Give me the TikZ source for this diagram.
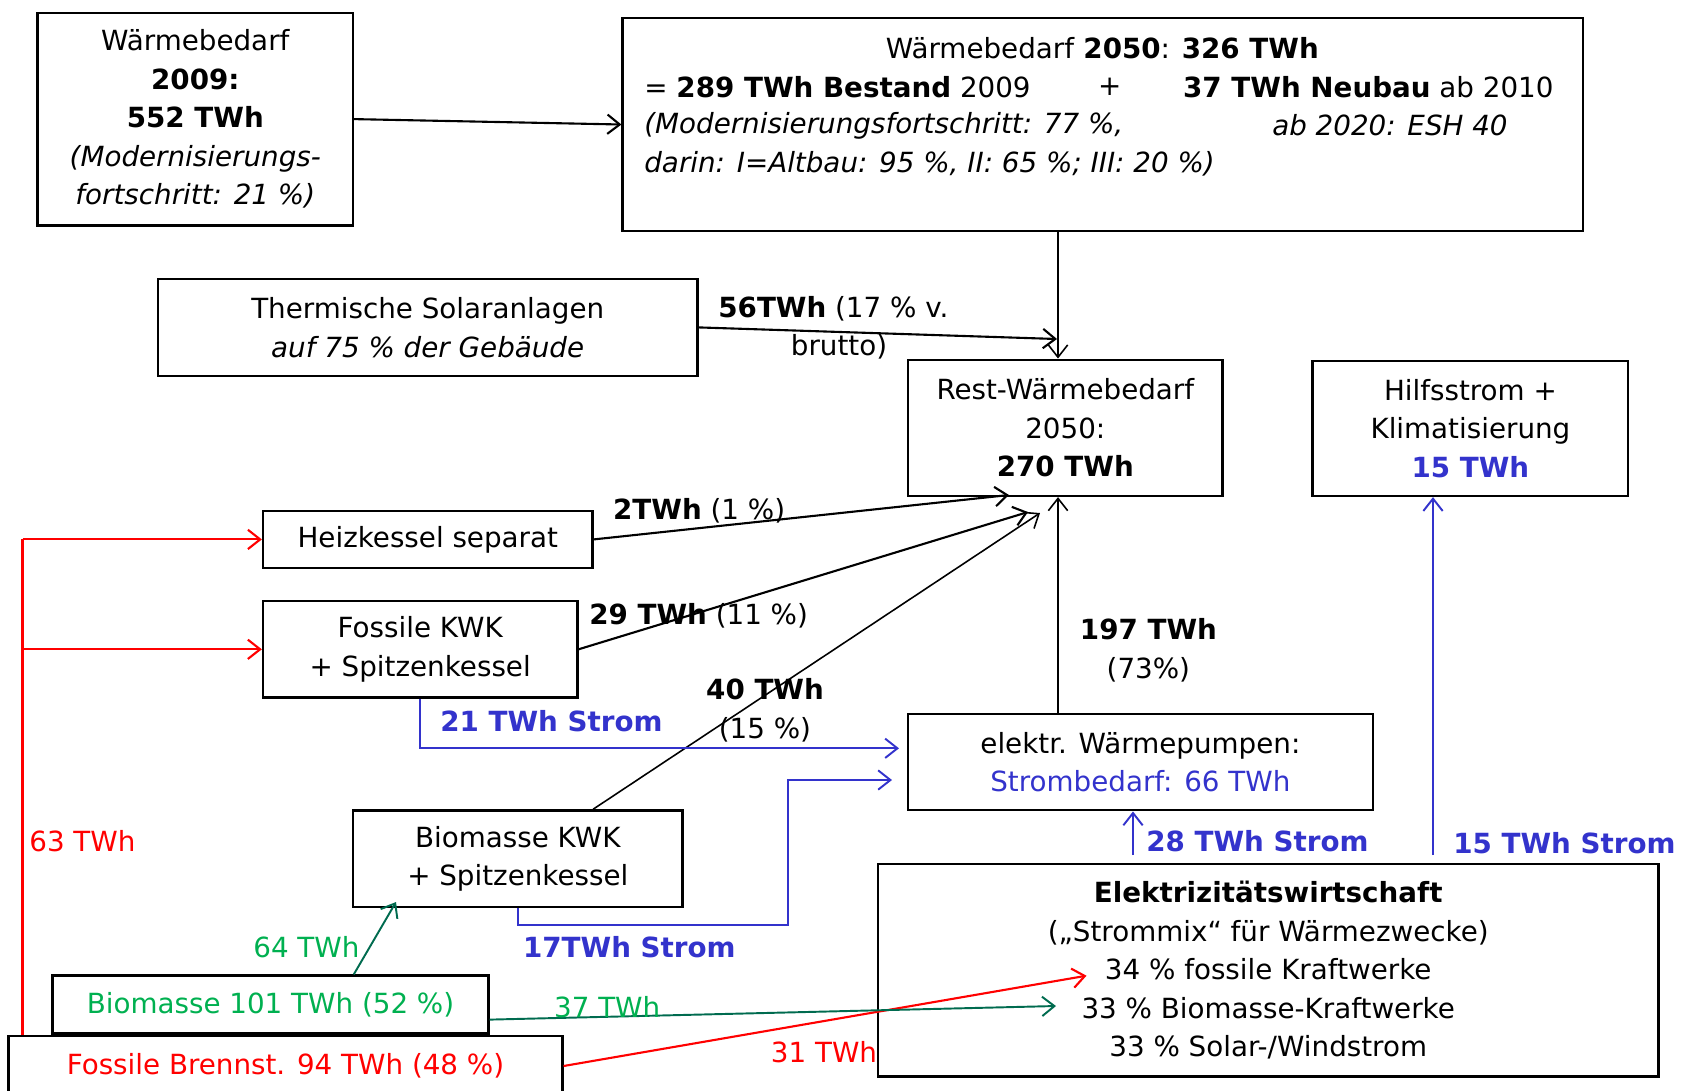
\documentclass[tikz,border=0pt]{standalone}
\usepackage{fontspec}
\setmainfont{DejaVu Sans}
\usetikzlibrary{arrows.meta,calc}

\definecolor{stromblau}{RGB}{51,51,204}
\definecolor{bio}{RGB}{0,176,80}
\definecolor{biodark}{RGB}{0,107,79}
\newcommand{\pxu}{0.02cm}

\begin{document}
\begin{tikzpicture}[x=0.02cm,y=-0.02cm,>={Straight Barb[length=7pt,width=11pt]},
                    font=\fontsize{15.8pt}{21.9pt}\selectfont,
                    box/.style={draw,line width=1.3pt,inner sep=0pt,align=center},
                    lbl/.style={inner sep=0pt,anchor=west},
                    flow/.style={->,line width=1.2pt},
                    thinflow/.style={->,line width=0.9pt},
                    elflow/.style={->,draw=stromblau,line width=1.1pt},
                    fossil/.style={->,draw=red,line width=1.2pt},
                    bioflow/.style={->,draw=biodark,line width=1.1pt}]

  \useasboundingbox (0,0) rectangle (1683,1090);

  \node[box,minimum width=315.4*\pxu,minimum height=212.5*\pxu] (w09) at (195.3,119.1)
    {Wärmebedarf\\\textbf{2009:}\\\textbf{552 TWh}\\\textit{(Modernisierungs-}\\\textit{fortschritt: 21 \%)}};
  \node[box,minimum width=960.5*\pxu,minimum height=212.6*\pxu] (w50) at (1102.8,124.5) {};
  \node      (w50a) at (1102.3,48.3)  {Wärmebedarf \textbf{2050}: \textbf{326 TWh}};
  \node[lbl] (w50b) at (644,87)       {= \textbf{289 TWh Bestand} 2009};
  \node      (w50c) at (1109.8,87)    {+};
  \node[lbl] (w50d) at (1182.8,87)    {\textbf{37 TWh Neubau} ab 2010};
  \node[lbl] (w50e) at (644,125.6)    {\textit{(Modernisierungsfortschritt: 77 \%,}};
  \node[lbl] (w50f) at (1271.9,125.6) {\textit{ab 2020: ESH 40}};
  \node[lbl] (w50g) at (644,164.2)    {\textit{darin: I=Altbau: 95 \%, II: 65 \%; III: 20 \%)}};

  \node[box,minimum width=539.8*\pxu,minimum height=96.7*\pxu] (sol) at (427.7,327.4)
    {Thermische Solaranlagen\\\textit{auf 75 \% der Gebäude}};
  \node[box,minimum width=314.5*\pxu,minimum height=136.3*\pxu] (rest) at (1065.3,427.8)
    {Rest-Wärmebedarf\\2050:\\\textbf{270 TWh}};
  \node[box,minimum width=315.6*\pxu,minimum height=135.3*\pxu] (hilf) at (1470.4,428.3)
    {Hilfsstrom +\\Klimatisierung\\\textcolor{stromblau}{\textbf{15 TWh}}};
  \node[box,minimum width=329.5*\pxu,minimum height=56.8*\pxu] (heiz) at (427.8,539.4)
    {Heizkessel separat};
  \node[box,minimum width=314.4*\pxu,minimum height=96.6*\pxu] (fkwk) at (420.2,649.3)
    {Fossile KWK\\+ Spitzenkessel};
  \node[box,minimum width=464.8*\pxu,minimum height=96.6*\pxu] (wp) at (1140.4,762)
    {elektr. Wärmepumpen:\\\textcolor{stromblau}{Strombedarf: 66 TWh}};
  \node[box,minimum width=329.6*\pxu,minimum height=96.7*\pxu] (bkwk) at (517.8,858.7)
    {Biomasse KWK\\+ Spitzenkessel};
  \node[box,minimum width=780.3*\pxu,minimum height=212.5*\pxu] (elek) at (1268.2,970.3)
    {\textbf{Elektrizitätswirtschaft}\\(„Strommix“ für Wärmezwecke)\\34 \% fossile Kraftwerke\\33 \% Biomasse-Kraftwerke\\33 \% Solar-/Windstrom};
  \node[box,text=bio,minimum width=435.8*\pxu,minimum height=58*\pxu] (bm) at (270.5,1004.6)
    {Biomasse 101 TWh (52 \%)};
  \node[box,text=red,minimum width=553.8*\pxu,minimum height=60.6*\pxu] (fb) at (285.5,1066)
    {Fossile Brennst. 94 TWh (48 \%)};

  \coordinate (vx)    at (1058,0);
  \coordinate (solin) at (1057,339);
  \coordinate (r1)    at (1009,495);
  \coordinate (r2)    at (1028,512);
  \coordinate (r3)    at (1040,513);
  \coordinate (b3)    at ($(bkwk.north west)!0.727!(bkwk.north east)$);
  \coordinate (s1)    at (899,748.3);
  \coordinate (c1)    at (787.8,925);
  \coordinate (s2)    at (892,780);
  \coordinate (e28)   at (1133,855);
  \coordinate (e15)   at (1433,855);
  \coordinate (rx)    at (22.5,0);
  \coordinate (g1)    at ($(bm.north west)!0.69!(bm.north east)$);
  \coordinate (g2)    at (396,902);
  \coordinate (g3)    at ($(bm.east)+(0,15)$);
  \coordinate (g4)    at (1056,1006);
  \coordinate (f4)    at (1086.5,975.7);

  \draw[flow]     (w09.east) -- (w50.west);
  \draw[thinflow] (w50.south -| vx) -- (rest.north -| vx);
  \draw[flow]     (sol.east) -- (solin);
  \draw[flow]     (heiz.east) -- (r1);
  \draw[flow]     (fkwk.east) -- (r2);
  \draw[thinflow] (b3) -- (r3);
  \draw[thinflow] (wp.north -| vx) -- (rest.south -| vx);

  \draw[elflow] (fkwk.south) |- (s1);
  \draw[elflow] (bkwk.south) |- (c1) |- (s2);
  \draw[elflow] (e28) -- (e28 |- wp.south);
  \draw[elflow] (e15) -- (e15 |- hilf.south);

  \draw[red,line width=1.2pt] (fb.north -| rx) -- (heiz.west -| rx);
  \draw[fossil] (heiz.west -| rx) -- (heiz.west);
  \draw[fossil] (fkwk.west -| rx) -- (fkwk.west);
  \draw[fossil] (fb.east) -- (f4);

  \draw[bioflow] (g1) -- (g2);
  \draw[bioflow] (g3) -- (g4);

  \node[lbl] (l56) at (718,309)   {\textbf{56TWh} (17 \% v.};
  \node      (lbr) at (839,346.7) {brutto)};
  \node[lbl] (l2)  at (612.8,511) {\textbf{2TWh} (1 \%)};
  \node[lbl] (l29) at (589,616)   {\textbf{29 TWh} (11 \%)};
  \node[align=center] (l40)  at (765,710.5)    {\textbf{40 TWh}\\(15 \%)};
  \node[align=center] (l197) at (1148.4,650.4) {\textbf{197 TWh}\\(73\%)};
  \node[lbl,text=stromblau] (l21) at (440,721.3)   {\textbf{21 TWh Strom}};
  \node[lbl,text=stromblau] (l17) at (522.7,946.7) {\textbf{17TWh Strom}};
  \node[lbl,text=stromblau] (l28) at (1146,841.5)  {\textbf{28 TWh Strom}};
  \node[lbl,text=stromblau] (l15) at (1453,843.6)  {\textbf{15 TWh Strom}};
  \node[lbl,text=red] (l63) at (29,841.5)    {63 TWh};
  \node[lbl,text=bio] (l64) at (253,946.7)   {64 TWh};
  \node[lbl,text=bio] (l37) at (553.8,1006.7) {37 TWh};
  \node[lbl,text=red] (l31) at (770.6,1051.8) {31 TWh};
\end{tikzpicture}
\end{document}
